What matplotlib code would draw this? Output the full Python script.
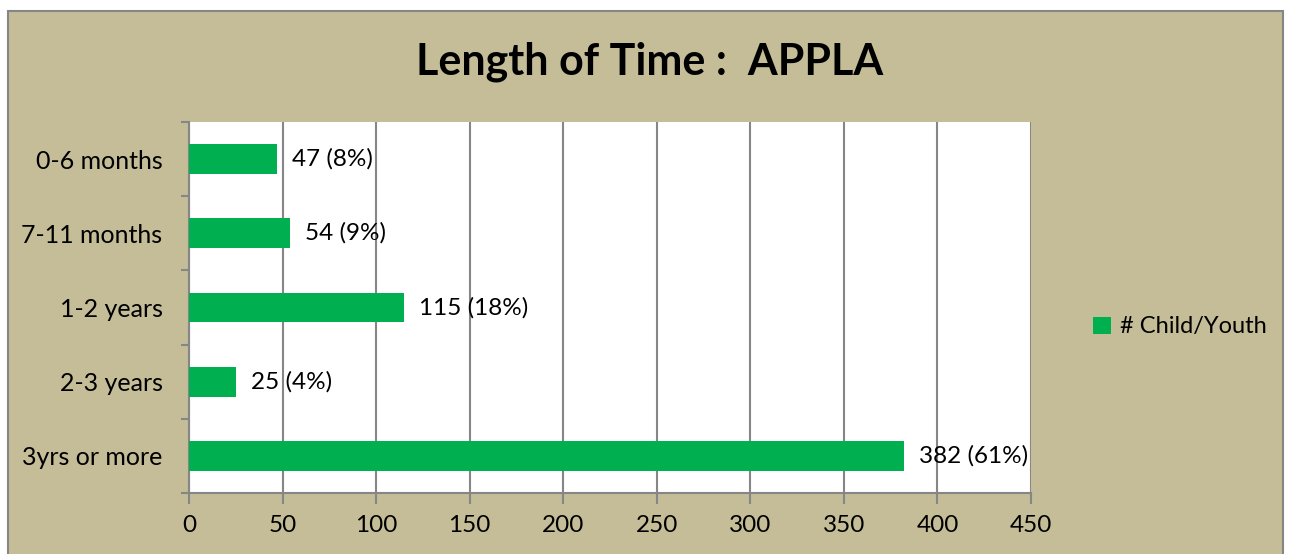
import matplotlib
matplotlib.use("Agg")
import matplotlib.pyplot as plt
from matplotlib.patches import Rectangle

categories = ["0-6 months", "7-11 months", "1-2 years", "2-3 years", "3yrs or more"]
counts = [47, 54, 115, 25, 382]
percents = [8, 9, 18, 4, 61]
x_ticks = [0, 50, 100, 150, 200, 250, 300, 350, 400, 450]

plt.rcParams["font.family"] = ["Lato", "DejaVu Sans"]

W, H = 1289, 554
fig = plt.figure(figsize=(W / 100, H / 100), dpi=100)
fig.patch.set_facecolor("white")

# outer chart frame with khaki fill
frame = Rectangle((8 / W, -0.05), (1283 - 8) / W, 1.05 - 11 / H,
                  transform=fig.transFigure, facecolor="#C4BD97",
                  edgecolor="#868686", linewidth=1.5, zorder=-1)
fig.patches.append(frame)

ax = fig.add_axes([189 / W, 61 / H, (1031 - 189) / W, (493 - 122) / H])
ax.set_zorder(2)
ax.set_facecolor("white")

ypos = list(range(len(categories)))
bars = ax.barh(ypos, counts, height=0.4, color="#00B050", zorder=3,
               label="# Child/Youth")
for y, c, p in zip(ypos, counts, percents):
    ax.annotate(f"{c} ({p}%)", xy=(c, y), xytext=(11, 0),
                textcoords="offset points", va="center", ha="left",
                fontsize=17.5, color="black", zorder=4)

ax.set_xlim(0, 450)
ax.set_ylim(len(categories) - 0.5, -0.5)
ax.set_xticks(x_ticks)
ax.set_yticks(ypos)
ax.set_yticklabels(categories)
ax.set_yticks([i - 0.5 for i in range(len(categories) + 1)], minor=True)
ax.tick_params(axis="y", which="major", length=0, pad=19, labelsize=18)
ax.tick_params(axis="y", which="minor", length=6, color="#868686", width=1.5)
ax.tick_params(axis="x", length=8, color="#868686", width=1.5, pad=8,
               labelsize=17.5)
ax.grid(axis="x", color="#868686", linewidth=1.5, zorder=1)
for s in ["top", "right"]:
    ax.spines[s].set_visible(False)
for s in ["left", "bottom"]:
    ax.spines[s].set_color("#868686")
    ax.spines[s].set_linewidth(1.5)

fig.text(650 / W, 1 - 62 / H, "Length of Time :  APPLA", ha="center",
         va="center", fontsize=31, fontweight="bold")

fig.legend(handles=[bars], labels=["# Child/Youth"], loc="center left",
           bbox_to_anchor=(1072 / W, 1 - 327 / H), frameon=False,
           fontsize=17, handlelength=0.75, handleheight=0.75, handletextpad=0.4)

fig.savefig("out.png", dpi=100)
